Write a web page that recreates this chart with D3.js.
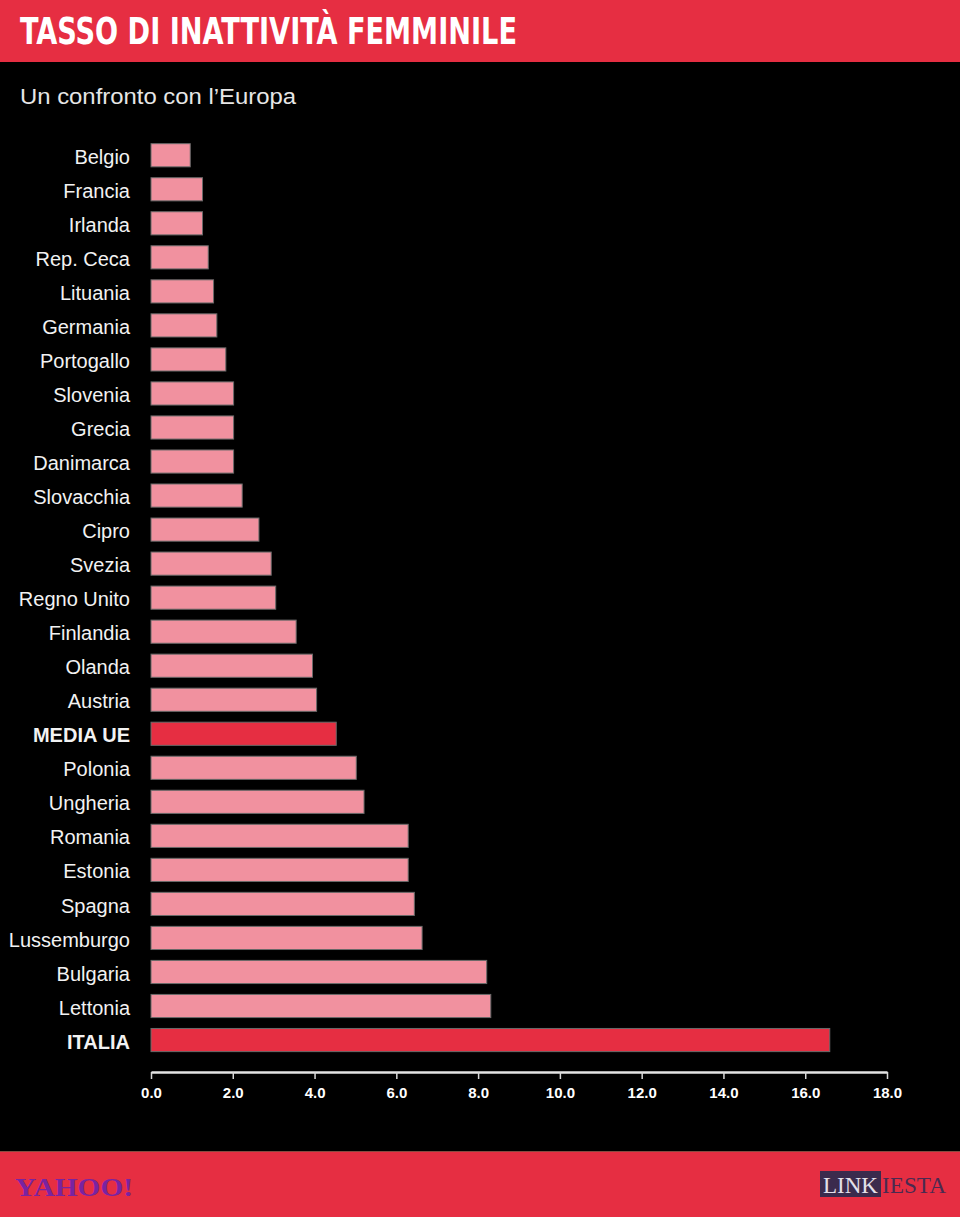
<!DOCTYPE html>
<html>
<head>
<meta charset="utf-8">
<script src="https://cdn.jsdelivr.net/npm/d3@7"></script>
<style>
  html, body { margin: 0; padding: 0; background: #000; }
  svg { display: block; }
</style>
</head>
<body>
<script>
const countries = ["Belgio","Francia","Irlanda","Rep. Ceca","Lituania","Germania","Portogallo","Slovenia","Grecia","Danimarca","Slovacchia","Cipro","Svezia","Regno Unito","Finlandia","Olanda","Austria","MEDIA UE","Polonia","Ungheria","Romania","Estonia","Spagna","Lussemburgo","Bulgaria","Lettonia","ITALIA"];
const values = [0.96,1.26,1.26,1.4,1.53,1.61,1.83,2.02,2.02,2.02,2.23,2.64,2.94,3.05,3.55,3.95,4.05,4.53,5.02,5.21,6.29,6.29,6.44,6.63,8.21,8.31,16.6];
const highlighted = ["MEDIA UE","ITALIA"];
const tickValues = [0,2,4,6,8,10,12,14,16,18];
const title = "TASSO DI INATTIVITÀ FEMMINILE";
const subtitle = "Un confronto con l’Europa";

const W = 960, H = 1217;
const RED = "#e62e42", PINK = "#f1919f";

const svg = d3.select("body").append("svg").attr("width", W).attr("height", H);
svg.append("rect").attr("width", W).attr("height", H).attr("fill", "#000");

// header
svg.append("rect").attr("x", 0).attr("y", 0).attr("width", W).attr("height", 62).attr("fill", RED);
svg.append("text").attr("x", 20).attr("y", 44)
  .attr("font-family", "'Liberation Sans Narrow', 'DejaVu Sans Condensed', Arial, sans-serif")
  .attr("font-weight", "bold").attr("font-size", 38).attr("fill", "#fff")
  .attr("textLength", 497).attr("lengthAdjust", "spacingAndGlyphs")
  .text(title);
svg.append("text").attr("x", 20).attr("y", 104)
  .attr("font-family", "'Liberation Sans', Arial, sans-serif")
  .attr("font-size", 22).attr("fill", "#e6e6e6")
  .attr("textLength", 276).attr("lengthAdjust", "spacingAndGlyphs")
  .text(subtitle);

const data = countries.map((c, i) => ({ country: c, value: values[i] }));

const x = d3.scaleLinear().domain([0, 18]).range([151, 887]);
const y = d3.scaleBand().domain(countries).range([132.8, 1062.5]).padding(0.32);

// bars
svg.append("g").selectAll("rect").data(data).join("rect")
  .attr("x", x(0))
  .attr("y", d => y(d.country))
  .attr("width", d => x(d.value) - x(0))
  .attr("height", y.bandwidth())
  .attr("fill", d => highlighted.includes(d.country) ? RED : PINK)
  .attr("stroke", "#6a6a6a").attr("stroke-width", 1);

// category labels
svg.append("g").selectAll("text").data(data).join("text")
  .attr("x", 130)
  .attr("y", d => y(d.country) + y.bandwidth() / 2)
  .attr("dy", "0.43em")
  .attr("text-anchor", "end")
  .attr("font-family", "'Liberation Sans', Arial, sans-serif")
  .attr("font-size", 20)
  .attr("font-weight", d => highlighted.includes(d.country) ? "bold" : "normal")
  .attr("fill", "#f2f2f2")
  .text(d => d.country);

// x axis
const axis = d3.axisBottom(x).tickValues(tickValues).tickFormat(d3.format(".1f")).tickSize(7).tickSizeOuter(0);
const gx = svg.append("g").attr("transform", "translate(0,1072)").call(axis);
gx.select(".domain").attr("stroke", "#e4e4e4").attr("stroke-width", 2.5);
gx.selectAll(".tick line").attr("stroke", "#d8d8d8").attr("stroke-width", 1.5);
gx.selectAll(".tick text")
  .attr("y", 15)
  .attr("fill", "#fff")
  .attr("font-family", "'Liberation Sans', Arial, sans-serif")
  .attr("font-weight", "bold")
  .attr("font-size", 15);

// footer
svg.append("rect").attr("x", 0).attr("y", 1151).attr("width", W).attr("height", 66).attr("fill", RED);
svg.append("line").attr("x1", 0).attr("x2", W).attr("y1", 1151.5).attr("y2", 1151.5).attr("stroke", "#8a4a40").attr("stroke-width", 1);
svg.append("text").attr("x", 15).attr("y", 1196)
  .attr("font-family", "'Liberation Serif', 'DejaVu Serif', serif")
  .attr("font-weight", "bold").attr("font-size", 25).attr("fill", "#7a23a0")
  .attr("textLength", 118).attr("lengthAdjust", "spacingAndGlyphs")
  .text("YAHOO!");
svg.append("rect").attr("x", 820).attr("y", 1171).attr("width", 61).attr("height", 26).attr("fill", "#3b2b4d");
svg.append("text").attr("x", 823).attr("y", 1193)
  .attr("font-family", "'Liberation Serif', 'DejaVu Serif', serif")
  .attr("font-size", 24).attr("fill", "#e4e0ea")
  .attr("textLength", 55).attr("lengthAdjust", "spacingAndGlyphs")
  .text("LINK");
svg.append("text").attr("x", 882).attr("y", 1193)
  .attr("font-family", "'Liberation Serif', 'DejaVu Serif', serif")
  .attr("font-size", 24).attr("fill", "#4a2a50")
  .attr("textLength", 64).attr("lengthAdjust", "spacingAndGlyphs")
  .text("IESTA");
</script>
</body>
</html>
